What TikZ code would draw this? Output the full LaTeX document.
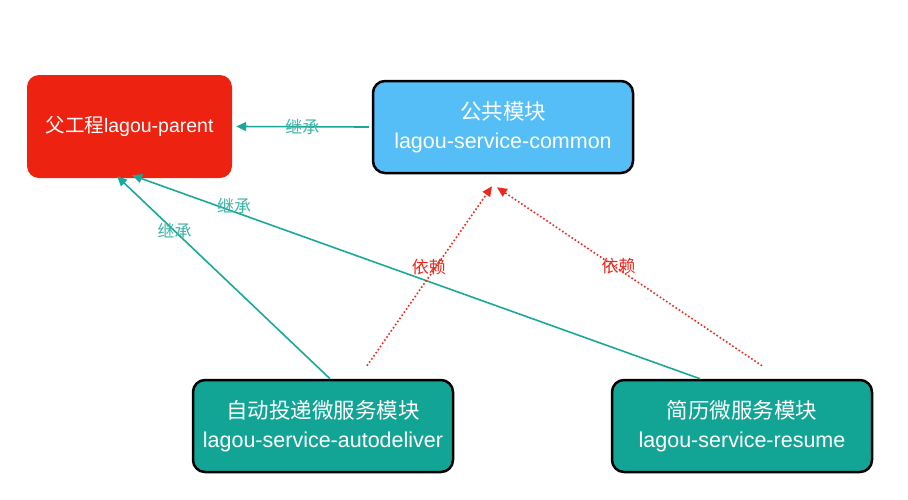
\documentclass[tikz,border=0pt]{standalone}
\usepackage{fontspec}
\setmainfont{Liberation Sans}
\newfontfamily\cjk{Noto Sans CJK SC}
\usetikzlibrary{arrows.meta,calc}
\definecolor{redbox}{RGB}{238,34,17}
\definecolor{bluebox}{RGB}{85,190,247}
\definecolor{tealbox}{RGB}{18,165,149}
\definecolor{tealline}{RGB}{26,168,152}
\definecolor{teallabel}{RGB}{60,180,166}
\definecolor{depred}{RGB}{238,40,28}
\tikzset{
  box/.style={rounded corners=12pt, text=white, align=center, font=\fontsize{21.5}{29}\selectfont, inner sep=0pt},
  sketch/.style={draw=black, line width=2.5pt},
  inherit/.style={draw=tealline, line width=1.6pt, -{Triangle[length=10pt,width=9pt]}},
  depend/.style={draw=depred, line width=1.6pt, dash pattern=on 1.6pt off 2.2pt, -{Triangle[length=10pt,width=9pt]}},
  inlabel/.style={text=teallabel, font=\cjk\fontsize{17}{17}\selectfont, inner sep=0pt},
  deplabel/.style={text=depred, font=\cjk\fontsize{17}{17}\selectfont, inner sep=0pt}
}
\begin{document}
\begin{tikzpicture}[x=1pt,y=-1pt]
\useasboundingbox (0,0) rectangle (908,499);
\node[box, fill=redbox, minimum width=205pt, minimum height=103pt, font=\fontsize{19.5}{24}\selectfont] (parent) at (129.5,126.5) {{\cjk 父工程}lagou-parent};
\node[box, sketch, fill=bluebox, minimum width=260pt, minimum height=92pt] (common) at (503,127) {{\cjk 公共模块}\\lagou-service-common};
\node[box, sketch, fill=tealbox, minimum width=260pt, minimum height=92pt] (auto) at (323,426) {{\cjk 自动投递微服务模块}\\lagou-service-autodeliver};
\node[box, sketch, fill=tealbox, minimum width=260pt, minimum height=92pt] (resume) at (742,426) {{\cjk 简历微服务模块}\\lagou-service-resume};

\draw[inherit] ($(common.west)+(-3,0)$) -- node[inlabel]{继承} ($(parent.east)+(4,0)$);
\draw[inherit] ($(auto.north)+(7,0)$) -- node[inlabel, pos=0.73]{继承} ($(parent.south)+(-12.5,-2)$);
\draw[inherit] ($(resume.north)+(-42,0)$) -- node[inlabel, pos=0.82, yshift=6pt]{继承} ($(parent.south)+(2.5,-3)$);
\draw[depend] ($(auto.north)+(44,-13)$) -- node[deplabel, pos=0.55, xshift=-7pt]{依赖} ($(common.south)+(-11,12)$);
\draw[depend] ($(resume.north)+(20,-13)$) -- node[deplabel, pos=0.56, xshift=5pt]{依赖} ($(common.south)+(-6,13)$);
\end{tikzpicture}
\end{document}
